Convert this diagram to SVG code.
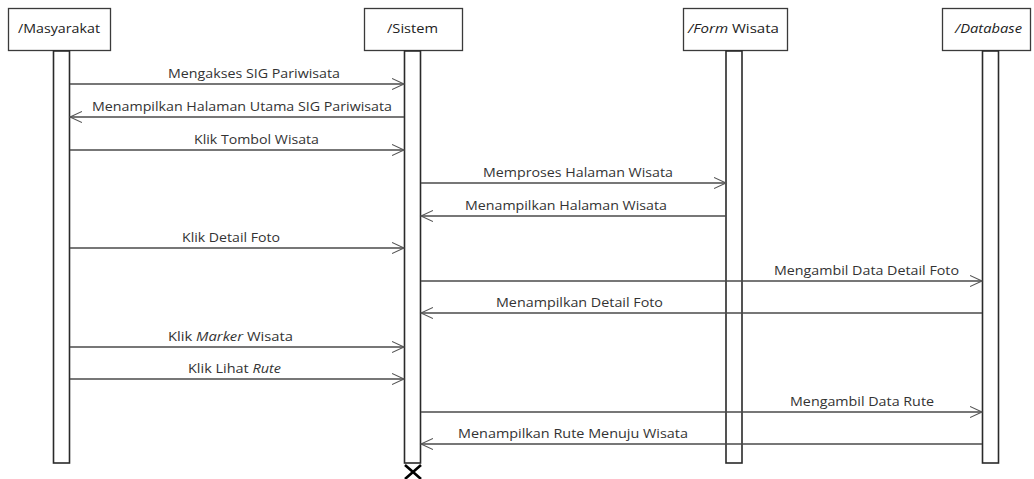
<svg xmlns="http://www.w3.org/2000/svg" width="1034" height="479" viewBox="0 0 1034 479">
<style>
.box{fill:#fff;stroke:#3a3a3a;stroke-width:1.3}
.bar{fill:#fff;stroke:#2a2a2a;stroke-width:1.6}
.msg{stroke:#4a4a4a;stroke-width:1.3;fill:none}
.hd{font-family:"Open Sans","Noto Sans",sans-serif;font-size:13.5px;fill:#222}
.lb{font-family:"Open Sans","Noto Sans",sans-serif;font-size:13px;fill:#333}
</style>
<defs>
<marker id="ar" markerUnits="userSpaceOnUse" markerWidth="14" markerHeight="12" refX="12" refY="6" orient="auto">
<path d="M0,0.5 L12,6 L0,11.5" fill="none" stroke="#555" stroke-width="1.1"/>
</marker>
</defs>
<rect width="1034" height="479" fill="#fff"/>
<g id="masyarakat">
<rect class="box" x="8.5" y="8.5" width="102" height="42"/>
<text class="hd" x="18" y="33" textLength="82" lengthAdjust="spacingAndGlyphs">/Masyarakat</text>
<rect class="bar" x="53.5" y="51" width="16" height="412"/>
</g>
<g id="sistem">
<rect class="box" x="364.5" y="8.5" width="98" height="42"/>
<text class="hd" x="387" y="33" textLength="51" lengthAdjust="spacingAndGlyphs">/Sistem</text>
<rect class="bar" x="404.5" y="51" width="16" height="412"/>
<path d="M405,465 L421,479 M421,465 L405,479" stroke="#000" stroke-width="2.6"/>
</g>
<g id="form-wisata">
<rect class="box" x="683.5" y="8.5" width="104" height="42"/>
<text class="hd" x="688" y="33" textLength="91" lengthAdjust="spacingAndGlyphs"><tspan font-style="italic">/Form</tspan> Wisata</text>
<rect class="bar" x="726" y="51" width="16" height="412"/>
</g>
<g id="database">
<rect class="box" x="942.5" y="8.5" width="88" height="42"/>
<text class="hd" x="955" y="33" textLength="67" lengthAdjust="spacingAndGlyphs" font-style="italic">/Database</text>
<rect class="bar" x="982.5" y="51" width="16" height="412"/>
</g>
<g id="connectors">
<line class="msg" x1="70" y1="84" x2="404" y2="84" marker-end="url(#ar)"/>
<line class="msg" x1="404" y1="117" x2="70" y2="117" marker-end="url(#ar)"/>
<line class="msg" x1="70" y1="150" x2="404" y2="150" marker-end="url(#ar)"/>
<line class="msg" x1="421" y1="183" x2="726" y2="183" marker-end="url(#ar)"/>
<line class="msg" x1="726" y1="216" x2="421" y2="216" marker-end="url(#ar)"/>
<line class="msg" x1="70" y1="248" x2="404" y2="248" marker-end="url(#ar)"/>
<line class="msg" x1="421" y1="281" x2="982" y2="281" marker-end="url(#ar)"/>
<line class="msg" x1="982" y1="313" x2="421" y2="313" marker-end="url(#ar)"/>
<line class="msg" x1="70" y1="347" x2="404" y2="347" marker-end="url(#ar)"/>
<line class="msg" x1="70" y1="379" x2="404" y2="379" marker-end="url(#ar)"/>
<line class="msg" x1="421" y1="412" x2="982" y2="412" marker-end="url(#ar)"/>
<line class="msg" x1="982" y1="444" x2="421" y2="444" marker-end="url(#ar)"/>
<text class="lb" x="168" y="78" textLength="172" lengthAdjust="spacingAndGlyphs">Mengakses SIG Pariwisata</text>
<text class="lb" x="92" y="111" textLength="300" lengthAdjust="spacingAndGlyphs">Menampilkan Halaman Utama SIG Pariwisata</text>
<text class="lb" x="194" y="144" textLength="125" lengthAdjust="spacingAndGlyphs">Klik Tombol Wisata</text>
<text class="lb" x="483" y="177" textLength="190" lengthAdjust="spacingAndGlyphs">Memproses Halaman Wisata</text>
<text class="lb" x="465" y="210" textLength="202" lengthAdjust="spacingAndGlyphs">Menampilkan Halaman Wisata</text>
<text class="lb" x="182" y="242" textLength="98" lengthAdjust="spacingAndGlyphs">Klik Detail Foto</text>
<text class="lb" x="774" y="275" textLength="185" lengthAdjust="spacingAndGlyphs">Mengambil Data Detail Foto</text>
<text class="lb" x="496" y="307" textLength="167" lengthAdjust="spacingAndGlyphs">Menampilkan Detail Foto</text>
<text class="lb" x="168" y="341" textLength="125" lengthAdjust="spacingAndGlyphs">Klik <tspan font-style="italic">Marker</tspan> Wisata</text>
<text class="lb" x="188" y="373" textLength="93" lengthAdjust="spacingAndGlyphs">Klik Lihat <tspan font-style="italic">Rute</tspan></text>
<text class="lb" x="790" y="406" textLength="144" lengthAdjust="spacingAndGlyphs">Mengambil Data Rute</text>
<text class="lb" x="458" y="438" textLength="230" lengthAdjust="spacingAndGlyphs">Menampilkan Rute Menuju Wisata</text>
</g>
</svg>
